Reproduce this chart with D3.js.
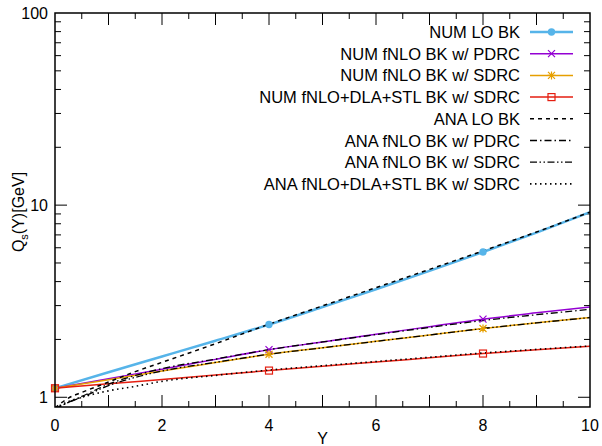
<!DOCTYPE html>
<html>
<head>
<meta charset="utf-8">
<script src="https://cdn.jsdelivr.net/npm/d3@7"></script>
<style>
  body { margin: 0; background: #fff; }
  text { font-family: "Liberation Sans", Arial, sans-serif; }
</style>
</head>
<body>
<svg id="chart"></svg>
<script>
// rapidity grid
var numY = [0, 1, 2, 3, 4, 5, 6, 7, 8, 9, 10];
var anaY = [0, 0.25, 0.5, 1, 1.5, 2, 3, 4, 5, 6, 7, 8, 9, 10];

// numerical solutions
var numLO   = [1.114, 1.35, 1.63, 1.97, 2.39, 2.95, 3.65, 4.55, 5.7, 7.2, 9.2];
var numPDRC = [1.114, 1.25, 1.40, 1.575, 1.77, 1.94, 2.13, 2.33, 2.55, 2.75, 2.95];
var numSDRC = [1.114, 1.235, 1.37, 1.515, 1.675, 1.81, 1.955, 2.11, 2.28, 2.44, 2.60];
var numDLA  = [1.114, 1.175, 1.238, 1.305, 1.377, 1.45, 1.525, 1.605, 1.689, 1.765, 1.843];
var markerAt = [0, 4, 8];

// analytic approximations
var anaLO   = [0.88, 0.99, 1.06, 1.2, 1.36, 1.52, 1.90, 2.40, 2.99, 3.72, 4.63, 5.78, 7.25, 9.2];
var anaPDRC = [0.87, 0.94, 1.01, 1.17, 1.30, 1.41, 1.58, 1.77, 1.94, 2.12, 2.31, 2.51, 2.69, 2.87];
var anaSDRC = [0.87, 0.94, 1.0, 1.15, 1.27, 1.37, 1.52, 1.675, 1.81, 1.955, 2.11, 2.28, 2.44, 2.60];
var anaDLA  = [0.88, 0.95, 1.0, 1.08, 1.14, 1.21, 1.30, 1.385, 1.46, 1.535, 1.615, 1.70, 1.775, 1.85];

var labels = ["NUM LO BK", "NUM fNLO BK w/ PDRC", "NUM fNLO BK w/ SDRC", "NUM fNLO+DLA+STL BK w/ SDRC",
              "ANA LO BK", "ANA fNLO BK w/ PDRC", "ANA fNLO BK w/ SDRC", "ANA fNLO+DLA+STL BK w/ SDRC"];
var xTicks = [0, 2, 4, 6, 8, 10];
var yTicks = [1, 10, 100];

var width = 602, height = 446;
var margins = {top: 13, bottom: 39, left: 55, right: 12};

var svg = d3.select("#chart").attr("width", width).attr("height", height);

var xScale = d3.scaleLinear().domain([0, 10]).range([margins.left, width - margins.right]);
var yScale = d3.scaleLog().domain([0.89, 100]).range([height - margins.bottom, margins.top]);

// ticks (mirrored on all four sides like gnuplot)
var x0 = margins.left, x1 = width - margins.right, y0 = height - margins.bottom, y1 = margins.top;
var ticks = svg.append("g").attr("stroke", "#000").attr("stroke-width", 1);
d3.range(1, 20).forEach(function(i){
  var v = i / 2, len = (i % 2 == 0) ? 12 : 6;
  ticks.append("line").attr("x1", xScale(v)).attr("x2", xScale(v)).attr("y1", y0).attr("y2", y0 - len);
  ticks.append("line").attr("x1", xScale(v)).attr("x2", xScale(v)).attr("y1", y1).attr("y2", y1 + len);
});
[1, 10].forEach(function(dec){
  d3.range(1, 10).forEach(function(k){
    var v = dec * k, len = (k == 1) ? 12 : 6;
    ticks.append("line").attr("x1", x0).attr("x2", x0 + len).attr("y1", yScale(v)).attr("y2", yScale(v));
    ticks.append("line").attr("x1", x1).attr("x2", x1 - len).attr("y1", yScale(v)).attr("y2", yScale(v));
  });
});

// tick labels
svg.append("g").selectAll("text").data(xTicks).enter().append("text")
   .attr("x", function(d){ return xScale(d); }).attr("y", y0 + 24)
   .attr("text-anchor", "middle").attr("font-size", 16).text(function(d){ return d; });
svg.append("g").selectAll("text").data(yTicks).enter().append("text")
   .attr("x", x0 - 7).attr("y", function(d){ return yScale(d) + 6; })
   .attr("text-anchor", "end").attr("font-size", 16).text(function(d){ return d; });

// axis titles
svg.append("text").attr("x", (x0 + x1) / 2).attr("y", 444).attr("text-anchor", "middle")
   .attr("font-size", 16).text("Y");
var yt = svg.append("text").attr("transform", "translate(24,212) rotate(-90)")
   .attr("text-anchor", "middle").attr("font-size", 16);
yt.append("tspan").text("Q");
yt.append("tspan").attr("font-size", 11).attr("dy", 4).text("s");
yt.append("tspan").attr("dy", -4).text("(Y)[GeV]");

// series definitions
var series = [
  {xs: numY, ys: numLO,   color: "#56b4e9", w: 2.5, dash: null, mark: "circle"},
  {xs: numY, ys: numPDRC, color: "#9400d3", w: 1.5, dash: null, mark: "x"},
  {xs: numY, ys: numSDRC, color: "#e69f00", w: 1.5, dash: null, mark: "star"},
  {xs: numY, ys: numDLA,  color: "#e51e10", w: 1.5, dash: null, mark: "square"},
  {xs: anaY, ys: anaLO,   color: "#000", w: 1.5, dash: "4,4", mark: null},
  {xs: anaY, ys: anaPDRC, color: "#000", w: 1.3, dash: "7,3,1.5,3", mark: null},
  {xs: anaY, ys: anaSDRC, color: "#000", w: 1.3, dash: "7,2.5,1.5,2.5,1.5,2.5", mark: null},
  {xs: anaY, ys: anaDLA,  color: "#000", w: 1.6, dash: "1.5,3.5", mark: null}
];

var plot = svg.append("g");
plot.append("clipPath").attr("id", "clip").append("rect")
    .attr("x", x0).attr("y", y1).attr("width", x1 - x0).attr("height", y0 - y1);

var line = d3.line().curve(d3.curveMonotoneX);

function drawMarker(g, type, cx, cy, color){
  if (type == "circle") {
    g.append("circle").attr("cx", cx).attr("cy", cy).attr("r", 3.7).attr("fill", color);
  } else if (type == "x") {
    g.append("path").attr("d", "M" + (cx-3.5) + "," + (cy-3.5) + "L" + (cx+3.5) + "," + (cy+3.5) +
                               "M" + (cx-3.5) + "," + (cy+3.5) + "L" + (cx+3.5) + "," + (cy-3.5))
     .attr("stroke", color).attr("stroke-width", 1.2);
  } else if (type == "star") {
    g.append("path").attr("d", "M" + (cx-3.5) + "," + (cy-3.5) + "L" + (cx+3.5) + "," + (cy+3.5) +
                               "M" + (cx-3.5) + "," + (cy+3.5) + "L" + (cx+3.5) + "," + (cy-3.5) +
                               "M" + (cx-4) + "," + cy + "L" + (cx+4) + "," + cy +
                               "M" + cx + "," + (cy-4) + "L" + cx + "," + (cy+4))
     .attr("stroke", color).attr("stroke-width", 1.2);
  } else if (type == "square") {
    g.append("rect").attr("x", cx - 3.5).attr("y", cy - 3.5).attr("width", 7).attr("height", 7)
     .attr("fill", "none").attr("stroke", color).attr("stroke-width", 1.2);
  }
}

var curves = plot.append("g").attr("clip-path", "url(#clip)");
series.forEach(function(s){
  var pts = s.xs.map(function(x, i){ return [xScale(x), yScale(s.ys[i])]; });
  curves.append("path").attr("d", line(pts)).attr("fill", "none")
        .attr("stroke", s.color).attr("stroke-width", s.w)
        .attr("stroke-dasharray", s.dash);
});
series.forEach(function(s){
  if (!s.mark) return;
  markerAt.forEach(function(x){
    var i = s.xs.indexOf(x);
    drawMarker(plot, s.mark, xScale(x), yScale(s.ys[i]), s.color);
  });
});

// legend
var legend = svg.append("g");
series.forEach(function(s, i){
  var ly = 32 + i * 21.7;
  legend.append("text").attr("x", 520).attr("y", ly + 6).attr("text-anchor", "end")
        .attr("font-size", 16.5).text(labels[i]);
  legend.append("line").attr("x1", 530).attr("x2", 573).attr("y1", ly).attr("y2", ly)
        .attr("stroke", s.color).attr("stroke-width", s.w).attr("stroke-dasharray", s.dash);
  if (s.mark) drawMarker(legend, s.mark, 551.5, ly, s.color);
});

// frame
svg.append("rect").attr("x", x0).attr("y", y1).attr("width", x1 - x0).attr("height", y0 - y1)
   .attr("fill", "none").attr("stroke", "#000").attr("stroke-width", 1.5);
</script>
</body>
</html>
